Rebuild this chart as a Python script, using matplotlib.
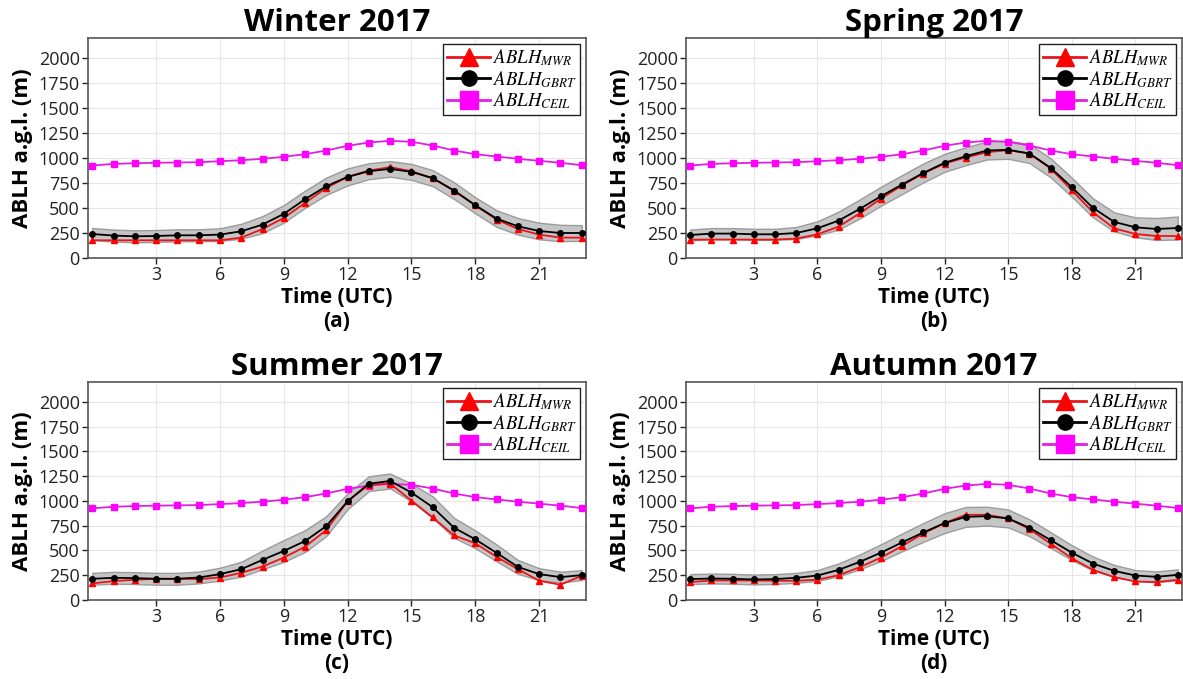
import matplotlib
matplotlib.use("Agg")
import matplotlib.pyplot as plt
from matplotlib.lines import Line2D
import numpy as np

plt.rcParams['font.family'] = ['Open Sans', 'DejaVu Sans']
plt.rcParams['mathtext.fontset'] = 'stix'

hours = list(range(24))

ceil = [925, 941, 948, 952, 955, 958, 968, 978, 992, 1012, 1038, 1075,
        1122, 1155, 1172, 1162, 1125, 1075, 1038, 1015, 992, 972, 952, 928]

winter_gbrt = [240, 224, 217, 220, 227, 227, 234, 267, 334, 441, 588, 718,
               811, 868, 891, 861, 798, 674, 527, 394, 317, 270, 250, 250]
winter_mwr = [177, 177, 177, 177, 177, 177, 177, 204, 290, 401, 551, 701,
              811, 875, 908, 868, 798, 674, 527, 384, 290, 234, 204, 204]
winter_spread = [60, 60, 60, 60, 60, 60, 63, 75, 85, 88, 86, 87,
                 85, 80, 78, 80, 80, 84, 80, 83, 83, 83, 82, 78]

spring_gbrt = [230, 244, 244, 237, 237, 250, 297, 374, 491, 618, 735, 851,
               952, 1018, 1075, 1082, 1045, 902, 708, 501, 361, 307, 290, 300]
spring_mwr = [184, 184, 184, 184, 184, 194, 237, 314, 447, 594, 728, 845,
              945, 1005, 1058, 1078, 1045, 895, 678, 457, 297, 240, 220, 220]
spring_spread = [55, 55, 55, 55, 55, 60, 70, 90, 95, 95, 95, 95,
                 90, 90, 90, 90, 95, 95, 95, 95, 95, 100, 110, 115]

summer_gbrt = [214, 224, 221, 214, 214, 227, 261, 311, 405, 495, 595, 746,
               997, 1174, 1201, 1084, 936, 729, 612, 475, 334, 261, 231, 251]
summer_mwr = [167, 191, 204, 214, 214, 211, 227, 274, 338, 428, 538, 706,
              997, 1164, 1174, 1003, 833, 652, 572, 435, 311, 194, 154, 244]
summer_spread = [60, 60, 60, 60, 60, 60, 65, 75, 95, 110, 110, 100,
                 80, 75, 75, 90, 110, 100, 90, 85, 70, 60, 55, 50]

autumn_gbrt = [211, 217, 214, 207, 211, 224, 247, 304, 385, 478, 582, 682,
               776, 839, 846, 823, 729, 605, 478, 368, 294, 247, 234, 254]
autumn_mwr = [181, 197, 197, 197, 194, 194, 204, 251, 331, 428, 545, 672,
              776, 860, 860, 823, 716, 569, 421, 304, 231, 187, 181, 204]
autumn_spread = [50, 50, 50, 50, 50, 50, 55, 65, 75, 85, 90, 95,
                 100, 100, 95, 90, 85, 80, 75, 70, 60, 55, 55, 55]

titles = ['Winter 2017', 'Spring 2017', 'Summer 2017', 'Autumn 2017']
letters = ['(a)', '(b)', '(c)', '(d)']
gbrt_all = [winter_gbrt, spring_gbrt, summer_gbrt, autumn_gbrt]
mwr_all = [winter_mwr, spring_mwr, summer_mwr, autumn_mwr]
spread_all = [winter_spread, spring_spread, summer_spread, autumn_spread]

xticks = [3, 6, 9, 12, 15, 18, 21]
yticks = [0, 250, 500, 750, 1000, 1250, 1500, 1750, 2000]

W, H = 1183, 679
fig = plt.figure(figsize=(W / 100, H / 100), dpi=100)

boxes = [(88, 38, 586, 258), (686, 38, 1182, 258),
         (88, 382, 586, 600), (686, 382, 1182, 600)]

for i, (x0, y0, x1, y1) in enumerate(boxes):
    ax = fig.add_axes([x0 / W, 1 - y1 / H, (x1 - x0) / W, (y1 - y0) / H])
    g = np.array(gbrt_all[i], dtype=float)
    s = np.array(spread_all[i], dtype=float)
    ax.fill_between(hours, g - s, g + s, facecolor='#bcbcbc', edgecolor='#909090',
                    linewidth=1.0, alpha=0.85, zorder=2)
    ax.plot(hours, ceil, color='#e020e0', marker='s', markersize=4.5,
            markerfacecolor='#ff00ff', markeredgecolor='#ff00ff', linewidth=1.3, zorder=3)
    ax.plot(hours, mwr_all[i], color='#e8161b', marker='^', markersize=4,
            markerfacecolor='#ff0000', markeredgecolor='#ff0000', linewidth=1.3, zorder=4)
    ax.plot(hours, gbrt_all[i], color='black', marker='o', markersize=4,
            linewidth=1.3, zorder=5)

    ax.set_xlim(-0.2, 23.2)
    ax.set_ylim(0, 2200)
    ax.set_xticks(xticks)
    ax.set_yticks(yticks)
    ax.grid(True, color='#e6e6e6', linewidth=0.8, zorder=0)
    ax.set_axisbelow(True)
    for sp in ax.spines.values():
        sp.set_color('#555555')
        sp.set_linewidth(1.2)
    ax.tick_params(axis='both', labelsize=13, colors='#222222', length=4,
                   width=1, pad=2)
    ax.set_title(titles[i], fontsize=22.5, fontweight='bold', pad=1)
    ax.set_ylabel('ABLH a.g.l. (m)', fontsize=16, fontweight='bold', labelpad=4)
    ax.set_xlabel('Time (UTC)\n' + letters[i], fontsize=15, fontweight='bold',
                  labelpad=2, linespacing=1.15)

    handles = [
        Line2D([], [], color='#e8161b', marker='^', markersize=13,
               markerfacecolor='#ff0000', markeredgecolor='#ff0000', linewidth=2),
        Line2D([], [], color='black', marker='o', markersize=11, linewidth=2),
        Line2D([], [], color='#e020e0', marker='s', markersize=13,
               markerfacecolor='#ff00ff', markeredgecolor='#ff00ff', linewidth=2),
    ]
    labels = [r'$ABLH_{MWR}$', r'$ABLH_{GBRT}$', r'$ABLH_{CEIL}$']
    leg = ax.legend(handles, labels, loc='upper right', fontsize=13.5,
                    frameon=True, fancybox=False, framealpha=1,
                    edgecolor='#222222', borderpad=0.2, labelspacing=0.05,
                    handlelength=2.3, handletextpad=0.15, borderaxespad=0.3)
    leg.get_frame().set_linewidth(1.0)

fig.savefig('out.png', dpi=100)
